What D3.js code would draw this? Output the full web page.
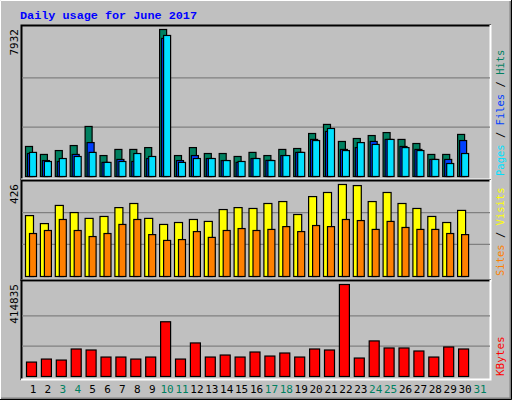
<!DOCTYPE html>
<html><head><meta charset="utf-8">
<script src="https://cdn.jsdelivr.net/npm/d3@7"></script>
<style>body{margin:0;background:#fff}</style></head><body>
<script>
const days = d3.range(1, 32);
const weekends = [3,4,10,11,17,18,24,25,31];
const hits  = [1620,1190,1400,1670,2700,1130,1460,1460,1560,7932,1130,1560,1240,1240,1080,1300,1130,1460,1510,2320,2810,1890,2050,2210,2370,2000,1780,1190,1190,2270];
const files = [1240,860,810,1190,1830,760,920,810,970,7450,860,1130,970,860,760,970,870,1130,1300,2000,2430,1460,1560,1890,2000,1620,1460,920,920,1940];
const pages = [1300,810,970,1080,1300,760,810,1240,1080,7610,760,970,970,860,810,970,860,1130,1300,1940,2590,1400,1830,1730,2000,1560,1400,920,700,1240];
const visits = [282,245,329,296,269,278,319,338,269,241,250,264,255,310,319,315,338,347,287,370,389,426,421,347,389,338,315,278,250,306];
const sites  = [199,213,264,213,185,199,241,264,194,167,171,208,181,213,222,213,218,231,208,236,231,264,259,218,255,227,218,218,199,194];
const kbytes = [65000,78600,74100,124000,119500,87700,87700,78600,87700,246800,78600,151300,87700,96800,87700,110400,92200,105900,87700,124000,119500,414835,83200,160400,128600,128600,115000,87700,133100,124000];
const maxHits = 7932, maxVisits = 426, maxKB = 414835;

const W=512,H=400;
const svg=d3.select("body").append("svg").attr("width",W).attr("height",H);
svg.append("rect").attr("width",W).attr("height",H).attr("fill","#c0c0c0");
svg.append("path").attr("d","M0.5,399.5V0.5H511.5").attr("stroke","#fff").attr("fill","none");
svg.append("path").attr("d","M1,398.5H510.5V1").attr("stroke","#808080").attr("stroke-width",2).attr("fill","none");
svg.append("path").attr("d","M0,399.5H511.5V0").attr("stroke","#000").attr("fill","none");

svg.append("text").attr("x",20).attr("y",19).text("Daily usage for June 2017")
 .attr("font-family","'Liberation Mono','DejaVu Sans Mono',monospace").attr("font-weight","bold")
 .attr("font-size",11.8).attr("fill","#0000ff");

const L=21,R=491;
const x=d3.scaleLinear().domain([1,31]).range([33,480]);
const mono="'DejaVu Sans Mono',monospace";

function panel(top,bot,base,topV){
  svg.append("path").attr("d",`M${L+0.5},${bot}V${top+0.5}H${R}`).attr("stroke","#000").attr("stroke-width",2).attr("fill","none");
  svg.append("path").attr("d",`M${L},${bot-0.5}H${R-0.5}V${top}`).attr("stroke","#fff").attr("stroke-width",2).attr("fill","none");
  return d3.scaleLinear().domain([0,1]).range([base,topV]);
}
function grid(y,vals){vals.forEach(v=>svg.append("line").attr("x1",L+1).attr("x2",R-1).attr("y1",y(v)).attr("y2",y(v)).attr("stroke","#808080").attr("stroke-width",1.3));}
function bars(data,max,y,dx0,dx1,color){
  svg.append("g").selectAll("rect").data(data).join("rect")
   .attr("x",(d,i)=>x(i+1)+dx0+0.5).attr("width",dx1-dx0-1)
   .attr("y",d=>y(d/max)+0.5).attr("height",d=>y(0)-y(d/max))
   .attr("fill",color).attr("stroke","#000").attr("stroke-width",1.2);
}
function vlabel(text,xp,yp,anchor,color){
  svg.append("text").attr("transform",`translate(${xp},${yp}) rotate(-90)`).attr("text-anchor",anchor)
   .attr("font-family",mono).attr("font-size",11).attr("fill",color).text(text);
}

const y1=panel(25,180,176,29);
grid(y1,[0.333,0.667]);
bars(hits,maxHits,y1,-8,0,"#008060");
bars(files,maxHits,y1,-6,2,"#0040ff");
bars(pages,maxHits,y1,-4,4,"#00e0ff");
vlabel("7932",18,29,"end","#000");
const lg1=svg.append("text").attr("transform","translate(504,176) rotate(-90)").attr("font-family",mono).attr("font-size",10.5);
lg1.append("tspan").attr("fill","#00e0ff").text("Pages");
lg1.append("tspan").attr("fill","#000").text(" / ");
lg1.append("tspan").attr("fill","#0040ff").text("Files");
lg1.append("tspan").attr("fill","#000").text(" / ");
lg1.append("tspan").attr("fill","#008060").text("Hits");

const y2=panel(180,281,276,184);
grid(y2,[0.333,0.667].map(v=>v*95/92));
bars(visits,maxVisits,y2,-8,1,"#ffff00");
bars(sites,maxVisits,y2,-4,4,"#ff8000");
vlabel("426",18,184,"end","#000");
const lg2=svg.append("text").attr("transform","translate(504,276) rotate(-90)").attr("font-family",mono).attr("font-size",10.5);
lg2.append("tspan").attr("fill","#ff8000").text("Sites");
lg2.append("tspan").attr("fill","#000").text(" / ");
lg2.append("tspan").attr("fill","#ffff00").text("Visits");

const y3=panel(280,380,376,284);
grid(y3,[0.333,0.667].map(v=>v*90/92));
bars(kbytes,maxKB,y3,-7,4,"#ff0000");
vlabel("414835",18,284,"end","#000");
vlabel("KBytes",504,376,"start","#ff0000");

svg.append("g").selectAll("text").data(days).join("text")
 .attr("x",d=>x(d)).attr("y",393).attr("text-anchor","middle")
 .attr("font-family",mono).attr("font-size",11)
 .attr("fill",d=>weekends.includes(d)?"#008060":"#000").text(d=>d);
</script></body></html>
